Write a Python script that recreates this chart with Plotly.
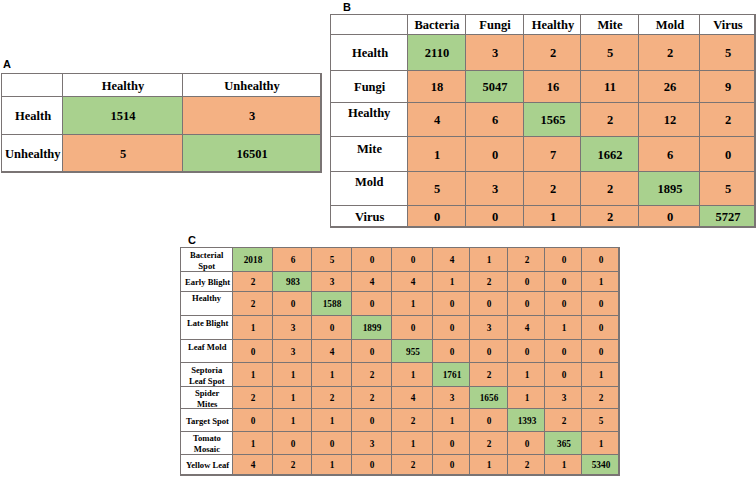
import numpy as np
import plotly.graph_objects as go

# ---------------- data ----------------
A_cols = ["Healthy", "Unhealthy"]
A_rows = ["Health", "Unhealthy"]
A_vals = [[1514, 3],
          [5, 16501]]

B_cols = ["Bacteria", "Fungi", "Healthy", "Mite", "Mold", "Virus"]
B_rows = ["Health", "Fungi", "Healthy", "Mite", "Mold", "Virus"]
B_vals = [[2110, 3, 2, 5, 2, 5],
          [18, 5047, 16, 11, 26, 9],
          [4, 6, 1565, 2, 12, 2],
          [1, 0, 7, 1662, 6, 0],
          [5, 3, 2, 2, 1895, 5],
          [0, 0, 1, 2, 0, 5727]]

C_rows = ["Bacterial<br>Spot", "Early Blight", "Healthy", "Late Blight", "Leaf Mold",
          "Septoria<br>Leaf Spot", "Spider<br>Mites", "Target Spot", "Tomato<br>Mosaic",
          "Yellow Leaf"]
C_vals = [[2018, 6, 5, 0, 0, 4, 1, 2, 0, 0],
          [2, 983, 3, 4, 4, 1, 2, 0, 0, 1],
          [2, 0, 1588, 0, 1, 0, 0, 0, 0, 0],
          [1, 3, 0, 1899, 0, 0, 3, 4, 1, 0],
          [0, 3, 4, 0, 955, 0, 0, 0, 0, 0],
          [1, 1, 1, 2, 1, 1761, 2, 1, 0, 1],
          [2, 1, 2, 2, 4, 3, 1656, 1, 3, 2],
          [0, 1, 1, 0, 2, 1, 0, 1393, 2, 5],
          [1, 0, 0, 3, 1, 0, 2, 0, 365, 1],
          [4, 2, 1, 0, 2, 0, 1, 2, 1, 5340]]

panel_letters = ["A", "B", "C"]

# ---------------- layout / style (pixels) ----------------
W, H = 756, 478
GREEN = "#A9D18E"
ORANGE = "#F4B183"
LINE = "#7a7474"

A_geo = dict(left=2, top=74, widths=[61, 120, 138], heights=[23, 38, 37],
             fsize=12.5, lsize=12.5, lshift=[0, 0])
B_geo = dict(left=331, top=15, widths=[77, 58, 58, 57, 58, 61, 55],
             heights=[20, 36, 32, 34, 35, 34, 21], fsize=12.5, lsize=12.5,
             lshift=[0, 0, 7, 6, 7, 0])
C_geo = dict(left=181, top=248, widths=[52, 40, 39, 40, 40, 41, 37, 38, 37, 37, 37],
             heights=[24, 20, 24, 24, 23, 24, 22, 23, 23, 20], fsize=9.3, lsize=8.6,
             lshift=[0, 0, 6, 5, 5, 0, 0, 0, 0, 0])
letter_pos = [(7, 64), (347, 7), (192, 240)]

colorscale = [[0, "white"], [0.333, "white"], [0.334, ORANGE], [0.666, ORANGE],
              [0.667, GREEN], [1, GREEN]]

fig = go.Figure()


def build(n, rows, cols, vals, left, top, widths, heights, fsize, lsize, lshift):
    labels, codes = [], []
    if cols is not None:
        labels.append([""] + list(cols))
        codes.append([0] * (len(cols) + 1))
    for i, r in enumerate(rows):
        labels.append([""] + [str(v) for v in vals[i]])
        codes.append([0] + [2 if j == i else 1 for j in range(len(vals[i]))])
    xe = np.concatenate([[0], np.cumsum(widths)])
    ye = np.concatenate([[0], np.cumsum(heights)])
    Wt, Ht = float(xe[-1]), float(ye[-1])
    pad = 1
    ax = "" if n == 1 else str(n)
    fig.add_trace(go.Heatmap(
        x=xe, y=ye, z=codes, text=labels, texttemplate="<b>%{text}</b>",
        textfont=dict(family="Liberation Serif", size=fsize, color="black"),
        colorscale=colorscale, zmin=0, zmax=2, showscale=False,
        xgap=1, ygap=1, hoverinfo="skip",
        xaxis="x" + ax, yaxis="y" + ax))
    fig.layout["xaxis" + ax] = dict(domain=[(left - pad) / W, min(1.0, (left + Wt + pad) / W)],
                                    range=[-pad, Wt + pad], visible=False,
                                    anchor="y" + ax, fixedrange=True)
    fig.layout["yaxis" + ax] = dict(domain=[1 - (top + Ht + pad) / H, 1 - (top - pad) / H],
                                    range=[Ht + pad, -pad], visible=False,
                                    anchor="x" + ax, fixedrange=True)
    # row labels (first column)
    off = 1 if cols is not None else 0
    for i, r in enumerate(rows):
        yc = (ye[i + off] + ye[i + off + 1]) / 2
        fig.add_annotation(text="<b>%s</b>" % r, x=(xe[0] + xe[1]) / 2, y=yc,
                           xref="x" + ax, yref="y" + ax, showarrow=False,
                           xanchor="center", yanchor="middle", yshift=lshift[i],
                           font=dict(family="Liberation Serif", size=lsize, color="black"))


build(1, A_rows, A_cols, A_vals, **A_geo)
build(2, B_rows, B_cols, B_vals, **B_geo)
build(3, C_rows, None, C_vals, **C_geo)

for letter, (px, py) in zip(panel_letters, letter_pos):
    fig.add_annotation(text="<b>%s</b>" % letter, x=px / W, y=1 - py / H,
                       xref="paper", yref="paper", showarrow=False,
                       xanchor="center", yanchor="middle",
                       font=dict(family="Liberation Sans", size=11, color="black"))

fig.update_layout(width=W, height=H, margin=dict(l=0, r=0, t=0, b=0),
                  paper_bgcolor="white", plot_bgcolor=LINE, showlegend=False)

fig.write_html("out.html", config={"displayModeBar": False},
               post_script="document.body.style.margin='0';")
